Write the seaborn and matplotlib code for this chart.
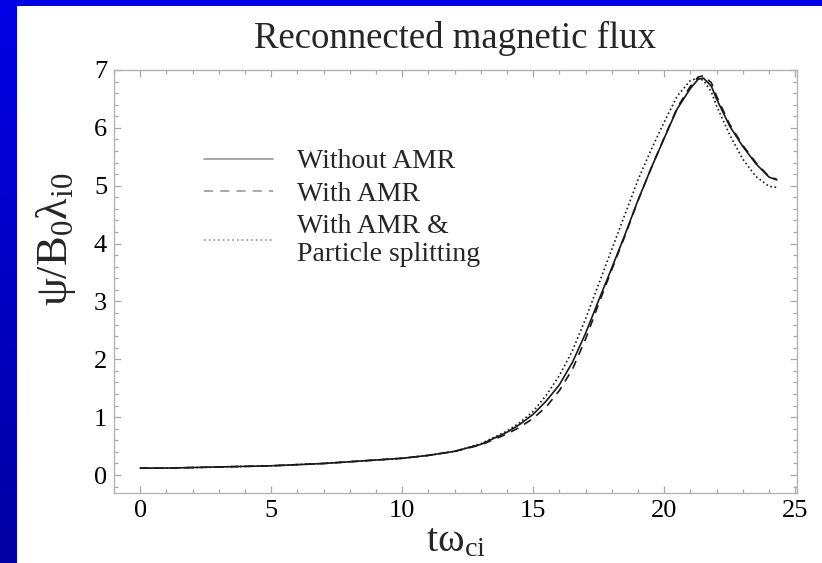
import numpy as np
import pandas as pd
import matplotlib
matplotlib.use("Agg")
import matplotlib.pyplot as plt
from matplotlib.lines import Line2D
from matplotlib.ticker import MultipleLocator
import seaborn as sns

# Reconnected flux vs time for the three runs
time = [0, 1, 2, 3, 4, 5, 6, 7, 8, 9, 10, 11, 12, 13, 14, 14.5, 15, 15.5, 16,
        16.5, 17, 17.5, 18, 18.5, 19, 19.5, 20, 20.5, 21, 21.3, 21.5, 21.8,
        22, 22.5, 23, 23.5, 24, 24.3]
flux_no_amr = [0.12, 0.12, 0.13, 0.14, 0.15, 0.16, 0.18, 0.20, 0.23, 0.26, 0.29,
               0.34, 0.41, 0.53, 0.74, 0.88, 1.05, 1.28, 1.56, 1.95, 2.45, 3.02,
               3.58, 4.15, 4.75, 5.30, 5.82, 6.33, 6.68, 6.84, 6.86, 6.72, 6.50,
               6.03, 5.68, 5.38, 5.15, 5.10]
flux_amr = [0.12, 0.12, 0.13, 0.14, 0.15, 0.16, 0.18, 0.20, 0.23, 0.26, 0.29,
            0.34, 0.41, 0.52, 0.71, 0.83, 0.98, 1.18, 1.46, 1.83, 2.35, 2.96,
            3.55, 4.13, 4.74, 5.30, 5.83, 6.35, 6.72, 6.88, 6.90, 6.78, 6.55,
            6.06, 5.70, 5.40, 5.16, 5.11]
flux_amr_split = [0.12, 0.12, 0.13, 0.14, 0.15, 0.16, 0.18, 0.20, 0.23, 0.26, 0.29,
                  0.34, 0.41, 0.54, 0.76, 0.91, 1.10, 1.38, 1.72, 2.15, 2.70, 3.30,
                  3.90, 4.50, 5.10, 5.62, 6.10, 6.55, 6.82, 6.86, 6.82, 6.62, 6.38,
                  5.88, 5.46, 5.16, 4.99, 4.97]

series_names = ["Without AMR", "With AMR", "With AMR &\nParticle splitting"]
series_styles = ["-", (0, (5, 4)), (0, (1, 1.6))]

sns.set_theme(style="ticks")
plt.rcParams["font.family"] = ["Liberation Serif", "DejaVu Serif"]
plt.rcParams["mathtext.fontset"] = "custom"
plt.rcParams["mathtext.rm"] = "Liberation Serif"
plt.rcParams["mathtext.it"] = "Liberation Serif"
plt.rcParams["mathtext.bf"] = "Liberation Serif:bold"

fig = plt.figure(figsize=(8.22, 5.63), dpi=100, facecolor="white")

# Blue slide frame: gradient strip on the left, flat band on top
W, H = 822, 563
strip = fig.add_axes([0, 0, 16 / W, 1])
grad = np.linspace(0, 1, 256).reshape(-1, 1)
cmap = matplotlib.colors.LinearSegmentedColormap.from_list(
    "slideblue", ["#0000e6", "#0000a4"])
strip.imshow(grad, aspect="auto", cmap=cmap, extent=[0, 1, 1, 0])
strip.set_axis_off()
top = fig.add_axes([0, 1 - 6 / H, 1, 6 / H])
top.set_facecolor("#0000e6")
top.set_xticks([]); top.set_yticks([])
for s in top.spines.values():
    s.set_visible(False)

ax = fig.add_axes([114 / W, 1 - 493 / H, (797 - 114) / W, (493 - 70) / H])

frames = []
for name, vals in zip(series_names, [flux_no_amr, flux_amr, flux_amr_split]):
    frames.append(pd.DataFrame({"t": time, "psi": vals, "run": name}))
df = pd.concat(frames, ignore_index=True)

for name, ls in zip(series_names, series_styles):
    sub = df[df["run"] == name]
    sns.lineplot(data=sub, x="t", y="psi", ax=ax, color="#1a1a1a",
                 linestyle=ls, linewidth=1.2, legend=False)

ax.set_xlim(-1.0, 25.07)
ax.set_ylim(-0.31, 7.0)
ax.xaxis.set_major_locator(MultipleLocator(5))
ax.xaxis.set_minor_locator(MultipleLocator(1))
ax.yaxis.set_major_locator(MultipleLocator(1))
ax.yaxis.set_minor_locator(MultipleLocator(0.2))
ax.tick_params(which="both", direction="in", top=True, right=True,
               color="#a8a8a8", width=0.9, labelsize=19, labelcolor="black",
               pad=5)
ax.tick_params(which="major", length=5)
ax.tick_params(which="minor", length=3)
for s in ax.spines.values():
    s.set_color("#b4b4b4")
    s.set_linewidth(1.0)

ax.set_xlabel(r"$\mathrm{t\omega_{ci}}$", fontsize=29, labelpad=1)
ax.set_ylabel(r"$\mathrm{\psi/B_0\lambda_{i0}}$", fontsize=32)
ax.yaxis.set_label_coords(-0.052, 0.60)
ax.set_title("Reconnected magnetic flux", fontsize=26.5, pad=16)

handles = [Line2D([], [], color="#a0a0a0", linestyle=ls, linewidth=1.3)
           for ls in series_styles]
ax.legend(handles, series_names, loc="upper left",
          bbox_to_anchor=(0.115, 0.84), frameon=False, fontsize=20,
          handlelength=2.5, handletextpad=0.85, labelspacing=0.25,
          borderaxespad=0)

fig.savefig("out.png", dpi=100, facecolor="white")
